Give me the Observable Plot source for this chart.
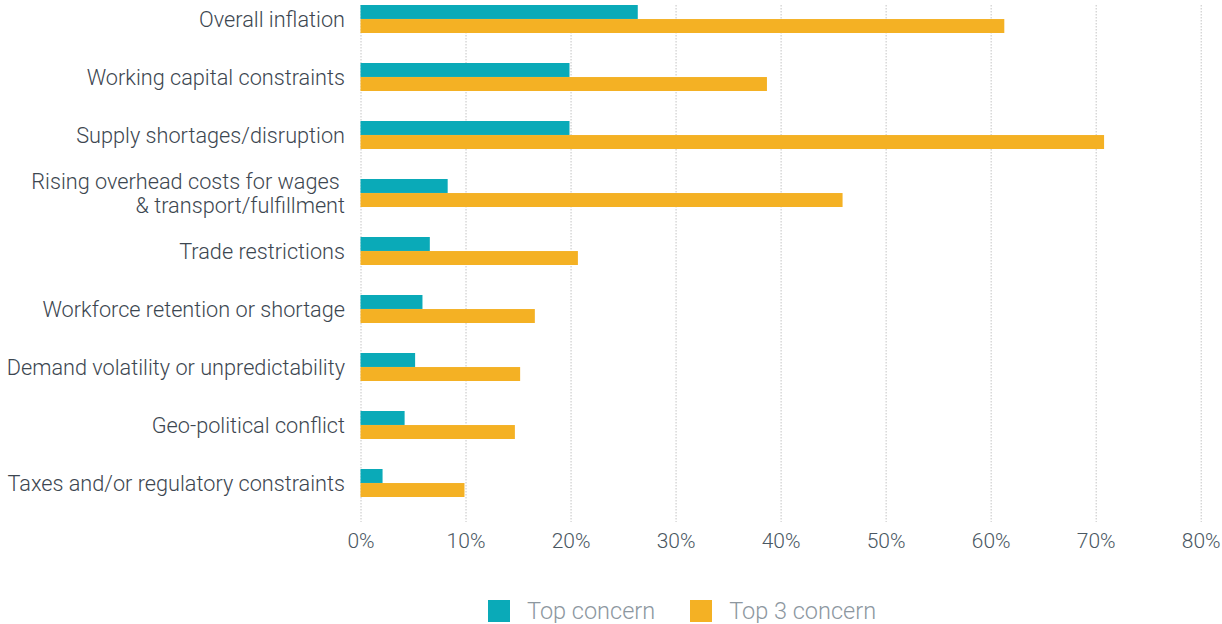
<!DOCTYPE html>
<html><head><meta charset="utf-8">
<script src="https://cdn.jsdelivr.net/npm/d3@7"></script>
<script src="https://cdn.jsdelivr.net/npm/@observablehq/plot@0.6"></script>
<style>
body{margin:0;background:#fff;font-family:Roboto,sans-serif;font-weight:300;}
#legend{display:flex;align-items:center;height:25px;padding-top:38px;padding-left:488px;}
.sw{width:22px;height:22px;display:inline-block;}
.lt{font-size:23.5px;color:#8d979f;margin-left:17px;margin-right:35px;line-height:22px;}
</style></head><body><div id="chart"></div><div id="legend"></div>
<script>
const categories = [
  "Overall inflation",
  "Working capital constraints",
  "Supply shortages/disruption",
  "Rising overhead costs for wages \n& transport/fulfillment",
  "Trade restrictions",
  "Workforce retention or shortage",
  "Demand volatility or unpredictability",
  "Geo-political conflict",
  "Taxes and/or regulatory constraints"
];
const topConcern  = [26.4, 19.9, 19.9, 8.3, 6.6, 5.9, 5.2, 4.2, 2.1];
const top3Concern = [61.3, 38.7, 70.8, 45.9, 20.7, 16.6, 15.2, 14.7, 9.9];
const seriesNames = ["Top concern", "Top 3 concern"];
const seriesColors = ["#0aaab8", "#f4b124"];
const xTicks = [0, 10, 20, 30, 40, 50, 60, 70, 80];

const rowsTop = categories.map((c, i) => ({category: c, series: seriesNames[0], value: topConcern[i]}));
const rowsTop3 = categories.map((c, i) => ({category: c, series: seriesNames[1], value: top3Concern[i]}));

const chart = Plot.plot({
  width: 1222,
  height: 560,
  marginLeft: 360.5,
  marginRight: 21.3,
  marginTop: 5,
  marginBottom: 38,
  style: {fontFamily: "Roboto, sans-serif", fontWeight: 300, background: "#fff"},
  x: {domain: [0, 80], label: null},
  y: {domain: categories, paddingInner: 0.52, paddingOuter: 0.179, align: 0, label: null},
  color: {domain: seriesNames, range: seriesColors},
  marks: [
    Plot.ruleX(xTicks, {x: d => d, stroke: "#c4c4c4", strokeDasharray: "1.5,1.5", strokeWidth: 1}),
    Plot.barX(rowsTop, {x: "value", y: "category", fill: "series", insetBottom: 14.04}),
    Plot.barX(rowsTop3, {x: "value", y: "category", fill: "series", insetTop: 14.04}),
    Plot.axisY({tickSize: 0, tickPadding: 16, fontSize: 21.7, color: "#3c4650", label: null, lineHeight: 1.1}),
    Plot.axisX(xTicks, {tickSize: 0, tickPadding: 11, fontSize: 21, color: "#4a5762", tickFormat: d => d + "%", label: null})
  ]
});
document.getElementById("chart").appendChild(chart);

const legend = document.getElementById("legend");
seriesNames.forEach((name, i) => {
  const sw = document.createElement("span");
  sw.className = "sw";
  sw.style.background = seriesColors[i];
  const t = document.createElement("span");
  t.className = "lt";
  t.textContent = name;
  legend.appendChild(sw);
  legend.appendChild(t);
});
</script></body></html>
